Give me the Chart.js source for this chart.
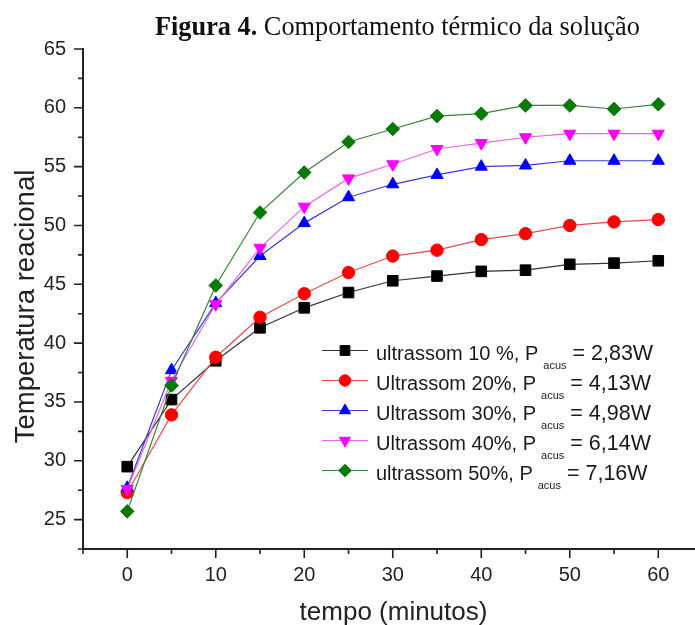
<!DOCTYPE html>
<html>
<head>
<meta charset="utf-8">
<script src="https://cdn.jsdelivr.net/npm/chart.js@4"></script>
<style>
  html, body { margin: 0; padding: 0; background: #fff; }
  #wrap { position: relative; width: 695px; height: 625px; }
  #title { position: absolute; left: 155px; top: 14px; font: 26.3px 'Liberation Serif', 'Times New Roman', serif; line-height: 26px; white-space: nowrap; color: #111; }
  canvas { position: absolute; left: 0; top: 0; }
</style>
</head>
<body>
<div id="wrap">
  <canvas id="c" width="695" height="625"></canvas>
  <div id="title"><b>Figura 4.</b> Comportamento térmico da solução</div>
</div>
<script>
// ---- data ----
const time = [0, 5, 10, 15, 20, 25, 30, 35, 40, 45, 50, 55, 60];
const us10 = [29.5, 35.2, 38.5, 41.3, 43.0, 44.3, 45.3, 45.7, 46.1, 46.2, 46.7, 46.8, 47.0];
const us20 = [27.3, 33.9, 38.8, 42.2, 44.2, 46.0, 47.4, 47.9, 48.8, 49.3, 50.0, 50.3, 50.5];
const us30 = [27.7, 37.7, 43.4, 47.4, 50.2, 52.4, 53.5, 54.3, 55.0, 55.1, 55.5, 55.5, 55.5];
const us40 = [27.6, 36.8, 43.3, 48.1, 51.6, 54.0, 55.2, 56.5, 57.0, 57.5, 57.8, 57.8, 57.8];
const us50 = [25.7, 36.4, 44.9, 51.1, 54.5, 57.1, 58.2, 59.3, 59.5, 60.2, 60.2, 59.9, 60.3];
const labelMain = ['ultrassom 10 %, P', 'Ultrassom 20%, P', 'Ultrassom 30%, P', 'Ultrassom 40%, P', 'ultrassom 50%, P'];
const labelSub = ['acus', 'acus', 'acus', 'acus', 'acus'];
const labelTail = [' = 2,83W', ' = 4,13W', ' = 4,98W', ' = 6,14W', ' = 7,16W'];
const xTickValues = [-5, 0, 5, 10, 15, 20, 25, 30, 35, 40, 45, 50, 55, 60];
const xTickLabels = ['', '0', '', '10', '', '20', '', '30', '', '40', '', '50', '', '60'];
const yTickValues = [22.5, 25, 27.5, 30, 32.5, 35, 37.5, 40, 42.5, 45, 47.5, 50, 52.5, 55, 57.5, 60, 62.5, 65];
const yTickLabels = ['', '25', '', '30', '', '35', '', '40', '', '45', '', '50', '', '55', '', '60', '', '65'];
const xTitle = 'tempo (minutos)';
const yTitle = 'Temperatura reacional';

const seriesValues = [us10, us20, us30, us40, us50];
const markerColors = ['#000000', '#ff0000', '#0000ff', '#ff00ff', '#067a06'];
const lineColors = ['#333333', '#e84a4a', '#3a3ad8', '#e866e8', '#3e7e3e'];
const pointStyles = ['rect', 'circle', 'triangle', 'triangle', 'rectRot'];
const rotations = [0, 0, 0, 180, 0];
const radii = [7.5, 6.2, 7, 7, 6.8];

const FONT = "'Liberation Sans', Arial, Helvetica, sans-serif";
Chart.defaults.font.family = FONT;
Chart.defaults.color = '#222';

const datasets = seriesValues.map((vals, i) => ({
  label: labelMain[i] + labelSub[i] + labelTail[i],
  data: time.map((t, k) => ({ x: t, y: vals[k] })),
  borderColor: lineColors[i],
  backgroundColor: markerColors[i],
  pointBackgroundColor: markerColors[i],
  pointBorderColor: markerColors[i],
  pointBorderWidth: 1,
  borderWidth: 1.2,
  pointStyle: pointStyles[i],
  pointRotation: rotations[i],
  pointRadius: radii[i],
  pointHoverRadius: radii[i],
  tension: 0,
  order: 4 - i
}));

const isMajor = (vals, labels, v) => labels[vals.indexOf(v)] !== '';

const tickPlugin = {
  id: 'axisTicks',
  afterDraw(chart) {
    const ctx = chart.ctx, xs = chart.scales.x, ys = chart.scales.y;
    ctx.save();
    ctx.strokeStyle = '#222';
    ctx.lineWidth = 1.6;
    ctx.beginPath();
    xTickValues.forEach(v => {
      const px = xs.getPixelForValue(v);
      const len = isMajor(xTickValues, xTickLabels, v) ? 9 : 5;
      ctx.moveTo(px, xs.top);
      ctx.lineTo(px, xs.top + len);
    });
    yTickValues.forEach(v => {
      const py = ys.getPixelForValue(v);
      const len = isMajor(yTickValues, yTickLabels, v) ? 9 : 5;
      ctx.moveTo(ys.right, py);
      ctx.lineTo(ys.right - len, py);
    });
    ctx.stroke();
    // axis titles
    ctx.fillStyle = '#222';
    ctx.textAlign = 'center';
    ctx.textBaseline = 'alphabetic';
    ctx.font = '26px ' + FONT;
    ctx.fillText(xTitle, 393.5, 620);
    ctx.translate(34, 306.5);
    ctx.rotate(-Math.PI / 2);
    ctx.font = '27.5px ' + FONT;
    ctx.fillText(yTitle, 0, 0);
    ctx.restore();
  }
};

const legendPlugin = {
  id: 'subLegend',
  afterDraw(chart) {
    const ctx = chart.ctx;
    chart.data.datasets.forEach((ds, i) => {
      const cy = 350.5 + 30 * i;
      ctx.save();
      ctx.strokeStyle = ds.borderColor;
      ctx.lineWidth = ds.borderWidth;
      ctx.beginPath();
      ctx.moveTo(322, cy);
      ctx.lineTo(368, cy);
      ctx.stroke();
      ctx.fillStyle = ds.pointBackgroundColor;
      ctx.strokeStyle = ds.pointBorderColor;
      ctx.lineWidth = 1;
      Chart.helpers.drawPoint(ctx, {
        pointStyle: ds.pointStyle,
        rotation: ds.pointRotation,
        radius: ds.pointRadius * 0.92,
        borderWidth: 1
      }, 345, cy);
      ctx.fillStyle = '#1a1a1a';
      ctx.textBaseline = 'alphabetic';
      ctx.textAlign = 'left';
      let x = 376;
      ctx.font = '20px ' + FONT;
      ctx.fillText(labelMain[i], x, cy + 9.5);
      x += ctx.measureText(labelMain[i]).width + 5;
      ctx.font = '11px ' + FONT;
      ctx.fillText(labelSub[i], x, cy + 18);
      x += ctx.measureText(labelSub[i]).width;
      ctx.font = '21.5px ' + FONT;
      ctx.fillText(labelTail[i], x, cy + 9.5);
      ctx.restore();
    });
  }
};

new Chart(document.getElementById('c'), {
  type: 'line',
  data: { datasets },
  options: {
    responsive: false,
    animation: false,
    devicePixelRatio: 1,
    layout: { autoPadding: false, padding: { top: 49, right: 0, bottom: 0, left: 0 } },
    plugins: {
      legend: { display: false },
      title: { display: false },
      tooltip: { enabled: false }
    },
    scales: {
      x: {
        type: 'linear',
        min: -5,
        max: 64.15,
        grid: { display: false, drawTicks: false },
        border: { display: true, color: '#222', width: 2 },
        afterBuildTicks: s => { s.ticks = xTickValues.map(v => ({ value: v })); },
        ticks: {
          autoSkip: false,
          maxRotation: 0,
          padding: 14,
          color: '#222',
          font: { size: 20 },
          callback: v => xTickLabels[xTickValues.indexOf(v)] ?? ''
        },
        title: { display: false },
        afterFit: s => { s.height = 76; s.paddingLeft = 0; s.paddingRight = 0; }
      },
      y: {
        type: 'linear',
        min: 22.5,
        max: 65,
        grid: { display: false, drawTicks: false },
        border: { display: true, color: '#222', width: 2 },
        afterBuildTicks: s => { s.ticks = yTickValues.map(v => ({ value: v })); },
        ticks: {
          autoSkip: false,
          padding: 17,
          color: '#222',
          font: { size: 20 },
          callback: v => yTickLabels[yTickValues.indexOf(v)] ?? ''
        },
        title: { display: false },
        afterFit: s => { s.width = 83; s.paddingTop = 0; s.paddingBottom = 0; }
      }
    }
  },
  plugins: [tickPlugin, legendPlugin]
});
</script>
</body>
</html>
